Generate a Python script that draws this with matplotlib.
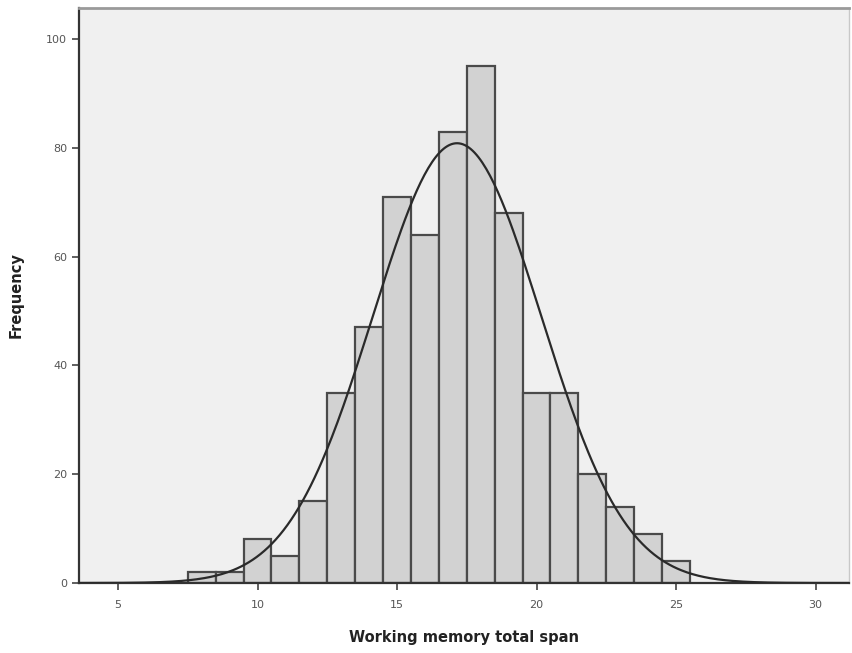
import numpy as np
import matplotlib
matplotlib.use("Agg")
import matplotlib.pyplot as plt

# histogram of working memory total span (bin centres, width 1)
bin_centres = [8, 9, 10, 11, 12, 13, 14, 15, 16, 17, 18, 19, 20, 21, 22, 23, 24, 25]
counts = [2, 2, 8, 5, 15, 35, 47, 71, 64, 83, 95, 68, 35, 35, 20, 14, 9, 4]
bin_width = 1.0

# fitted normal curve
curve_mean = 17.15
curve_sd = 3.02

x_ticks = [5, 10, 15, 20, 25, 30]
y_ticks = [0, 20, 40, 60, 80, 100]

fig = plt.figure(figsize=(8.52, 6.53), dpi=100)
ax = fig.add_axes([0.0927, 0.1072, 0.9038, 0.8805])
ax.set_facecolor("#f0f0f0")

ax.bar(bin_centres, counts, width=bin_width, color="#d2d2d2",
       edgecolor="#4a4a4a", linewidth=1.6, zorder=2)

n_total = sum(counts)
xs = np.linspace(3.6, 31.2, 400)
ys = n_total * bin_width / (curve_sd * np.sqrt(2 * np.pi)) * np.exp(-0.5 * ((xs - curve_mean) / curve_sd) ** 2)
ax.plot(xs, ys, color="#2a2a2a", linewidth=1.6, zorder=3)

ax.set_xlim(3.6, 31.2)
ax.set_ylim(0, 105.7)
ax.set_xticks(x_ticks)
ax.set_yticks(y_ticks)

for side in ["left", "bottom"]:
    ax.spines[side].set_color("#333333")
    ax.spines[side].set_linewidth(1.6)
ax.spines["top"].set_color("#9a9a9a")
ax.spines["top"].set_linewidth(2)
ax.spines["right"].set_color("#c8c8c8")
ax.spines["right"].set_linewidth(1)

ax.tick_params(axis="both", direction="out", length=5, width=1.2,
               color="#444444", labelcolor="#555555", labelsize=8)
ax.tick_params(axis="x", pad=7)

ax.set_xlabel("Working memory total span", fontsize=10.5, fontweight="bold",
              color="#222222", labelpad=15)
ax.set_ylabel("Frequency", fontsize=10.5, fontweight="bold",
              color="#222222", labelpad=16)

fig.savefig("out.png", dpi=100, facecolor="white")
